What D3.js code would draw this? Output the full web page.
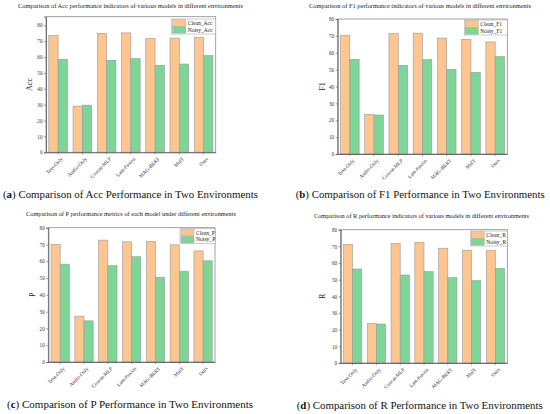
<!DOCTYPE html>
<html>
<head>
<meta charset="utf-8">
<script src="https://cdn.jsdelivr.net/npm/d3@7/dist/d3.min.js"></script>
<style>
html,body{margin:0;padding:0;background:#fff;}
svg{display:block;}
text{font-family:"Liberation Serif","Times New Roman",serif;}
</style>
</head>
<body>
<svg id="chart" width="550" height="414"></svg>
<script>
const categories = ["Text-Only","Audio-Only","Concat-MLP","Late-Fusion","MAG-BERT","MulT","Ours"];
const accClean = [73.5,29.1,74.9,75.2,71.7,71.9,72.5];
const accNoisy = [58.6,29.7,58.0,59.0,54.8,55.6,60.9];
const f1Clean = [70.4,23.5,71.3,71.6,68.7,67.9,66.4];
const f1Noisy = [56.1,23.1,52.5,55.9,50.2,48.4,57.7];
const pClean = [70.1,27.3,72.6,71.6,71.9,69.8,66.2];
const pNoisy = [58.3,24.5,57.4,62.7,50.5,54.1,60.3];
const rClean = [71.2,23.6,71.8,72.4,68.9,67.7,67.5];
const rNoisy = [56.4,23.4,52.8,54.8,51.2,49.4,56.8];
const yTicks = [0,10,20,30,40,50,60,70,80];

const colClean = "#fdc590", colNoisy = "#7dd597", barStroke = "#9a9a9a";

const panels = [
  {clean:accClean, noisy:accNoisy, ymax:85.4, x0:46, x1:215.7, y0:16.7, y1:152.3,
   title:"Comparison of Acc performance indicators of various models in different environments",
   tx:18, ty:8, tw:225, ylab:"Acc", ylx:32, legNames:["Clean_Acc","Noisy_Acc"], legW:44, legTop:19,
   letter:"a", capRest:" Comparison of Acc Performance in Two Environments", cx:3, cy:198, cw:255},
  {clean:f1Clean, noisy:f1Noisy, ymax:80, x0:337.7, x1:507.3, y0:19, y1:154,
   title:"Comparison of F1 performance indicators of various models in different environments",
   tx:309, ty:8, tw:222, ylab:"F1", ylx:325, legNames:["Clean_F1","Noisy_F1"], legW:43, legTop:20,
   letter:"b", capRest:" Comparison of F1 Performance in Two Environments", cx:295.7, cy:198, cw:249},
  {clean:pClean, noisy:pNoisy, ymax:80, x0:48.3, x1:215, y0:227.7, y1:362,
   title:"Comparison of P performance metrics of each model under different environments",
   tx:26, ty:215.5, tw:210, ylab:"P", ylx:35, legNames:["Clean_P","Noisy_P"], legW:35, legTop:228.7,
   letter:"c", capRest:" Comparison of P Performance in Two Environments", cx:7, cy:408, cw:246},
  {clean:rClean, noisy:rNoisy, ymax:80, x0:340.7, x1:507.3, y0:229.7, y1:363,
   title:"Comparison of R performance indicators of various models in different environments",
   tx:314, ty:218, tw:215, ylab:"R", ylx:325, legNames:["Clean_R","Noisy_R"], legW:37, legTop:231,
   letter:"d", capRest:" Comparison of R Performance in Two Environments", cx:296.7, cy:409, cw:246}
];

const svg = d3.select("#chart");

panels.forEach(p => {
  const g = svg.append("g");
  const x = d3.scaleBand().domain(categories).range([p.x0, p.x1]).paddingInner(0.23).paddingOuter(0.115);
  const xs = d3.scaleBand().domain(["clean","noisy"]).range([0, x.bandwidth()]);
  const y = d3.scaleLinear().domain([0, p.ymax]).range([p.y1, p.y0]);

  // title
  g.append("text").attr("x", p.tx).attr("y", p.ty).attr("font-size", 5.6).attr("fill", "#222")
    .attr("textLength", p.tw).attr("lengthAdjust", "spacingAndGlyphs").text(p.title);

  // bars
  const series = [{key:"clean", vals:p.clean, col:colClean},{key:"noisy", vals:p.noisy, col:colNoisy}];
  series.forEach(s => {
    g.selectAll(null).data(categories).enter().append("rect")
      .attr("x", (c) => x(c) + xs(s.key))
      .attr("width", xs.bandwidth())
      .attr("y", (c, i) => y(s.vals[i]))
      .attr("height", (c, i) => y(0) - y(s.vals[i]))
      .attr("fill", s.col).attr("stroke", barStroke).attr("stroke-width", 0.6);
  });

  // frame
  g.append("rect").attr("x", p.x0).attr("y", p.y0).attr("width", p.x1 - p.x0).attr("height", p.y1 - p.y0)
    .attr("fill", "none").attr("stroke", "#8a8a8a").attr("stroke-width", 0.8);

  // y axis
  const ya = g.append("g").attr("transform", `translate(${p.x0},0)`)
    .call(d3.axisLeft(y).tickValues(yTicks).tickSize(2).tickPadding(1.5));
  ya.select(".domain").attr("stroke", "#555").attr("stroke-width", 0.8);
  ya.selectAll(".tick line").attr("stroke", "#555").attr("stroke-width", 0.6);
  ya.selectAll(".tick text").attr("font-size", 5.2).attr("fill", "#333")
    .attr("font-family", "Liberation Serif, serif");

  // x axis
  const xa = g.append("g").attr("transform", `translate(0,${p.y1})`)
    .call(d3.axisBottom(x).tickSize(2).tickSizeOuter(0).tickPadding(2));
  xa.select(".domain").attr("stroke", "#555").attr("stroke-width", 0.8);
  xa.selectAll(".tick line").attr("stroke", "#555").attr("stroke-width", 0.6);
  xa.selectAll(".tick text").attr("font-size", 5.2).attr("fill", "#333")
    .attr("font-family", "Liberation Serif, serif")
    .attr("text-anchor", "end").attr("dy", "0.3em")
    .attr("transform", "translate(1,3) rotate(-45)");

  // y label
  g.append("text").attr("transform", `translate(${p.ylx},${(p.y0 + p.y1) / 2}) rotate(-90)`)
    .attr("text-anchor", "middle").attr("font-size", 8).attr("fill", "#222").text(p.ylab);

  // legend
  const lx = p.x1 - p.legW, ly = p.legTop;
  g.append("rect").attr("x", lx).attr("y", ly).attr("width", p.legW).attr("height", 15)
    .attr("fill", "#fff").attr("stroke", "#999").attr("stroke-width", 0.5);
  [colClean, colNoisy].forEach((c, i) => {
    g.append("rect").attr("x", lx + 1).attr("y", ly + 0.8 + i * 6.9).attr("width", 13).attr("height", 6.4)
      .attr("fill", c).attr("stroke", barStroke).attr("stroke-width", 0.4);
    g.append("text").attr("x", lx + 16).attr("y", ly + 5.8 + i * 6.9).attr("font-size", 5.6)
      .attr("fill", "#222").text(p.legNames[i]);
  });

  // caption
  const cap = g.append("text").attr("x", p.cx).attr("y", p.cy).attr("font-size", 10.2).attr("fill", "#111")
    .attr("textLength", p.cw).attr("lengthAdjust", "spacingAndGlyphs");
  cap.append("tspan").text("(");
  cap.append("tspan").attr("font-weight", "bold").text(p.letter);
  cap.append("tspan").text(")" + p.capRest);
});
</script>
</body>
</html>
